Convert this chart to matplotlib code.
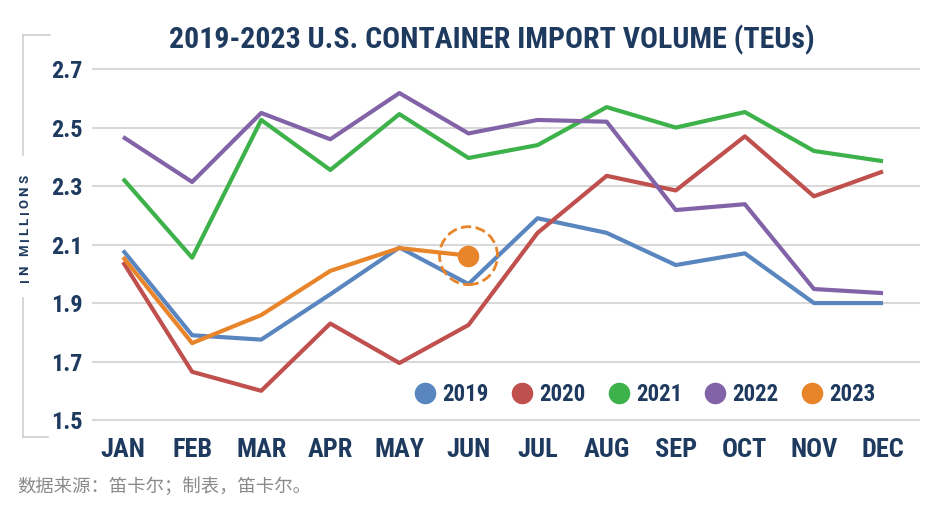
import matplotlib
matplotlib.use("Agg")
import matplotlib.pyplot as plt
from matplotlib.lines import Line2D

months = ["JAN", "FEB", "MAR", "APR", "MAY", "JUN", "JUL", "AUG", "SEP", "OCT", "NOV", "DEC"]
years = ["2019", "2020", "2021", "2022", "2023"]
v2019 = [2.08, 1.79, 1.775, 1.93, 2.09, 1.965, 2.19, 2.14, 2.03, 2.07, 1.90, 1.90]
v2020 = [2.04, 1.665, 1.60, 1.83, 1.695, 1.825, 2.14, 2.335, 2.285, 2.47, 2.265, 2.35]
v2021 = [2.325, 2.055, 2.526, 2.355, 2.546, 2.396, 2.44, 2.57, 2.50, 2.553, 2.42, 2.385]
v2022 = [2.468, 2.314, 2.55, 2.46, 2.618, 2.48, 2.526, 2.52, 2.218, 2.238, 1.948, 1.934]
v2023 = [2.057, 1.763, 1.859, 2.01, 2.088, 2.062]
yticks = [1.5, 1.7, 1.9, 2.1, 2.3, 2.5, 2.7]

colors = ["#5a86c0", "#c0504d", "#3db14a", "#8263a8", "#e8842a"]
navy = "#1e3a5f"
cond = ["Roboto Condensed", "DejaVu Sans"]

W, H = 935, 509
fig = plt.figure(figsize=(W / 100, H / 100), dpi=100)
ax = fig.add_axes([92 / W, 1 - 430 / H, 828 / W, 370 / H])

series = [v2019, v2020, v2021, v2022, v2023]
for vals, c in zip(series, colors):
    ax.plot(range(len(vals)), vals, color=c, lw=3, solid_capstyle="butt", zorder=3)

# last 2023 point: dot + dashed ring
last = len(v2023) - 1
ax.plot(last, v2023[-1], "o", color=colors[4], ms=14.5, zorder=4)
ax.scatter([last], [v2023[-1]], s=1740, facecolors="none", edgecolors=colors[4],
           linewidths=2, linestyles="--", zorder=4)

ax.set_xlim(-0.449, 11.535)
ax.set_ylim(1.466, 2.731)
ax.set_yticks(yticks)
ax.set_yticklabels([f"{t:.1f}" for t in yticks])
ax.set_xticks(range(12))
ax.set_xticklabels(months)
ax.grid(axis="y", color="#d9d9d9", lw=1.5)
ax.set_axisbelow(True)
for s in ax.spines.values():
    s.set_visible(False)
ax.tick_params(length=0, colors=navy)
ax.tick_params(axis="y", pad=7)
ax.tick_params(axis="x", pad=6)
for lab in ax.get_yticklabels():
    lab.set_family(cond); lab.set_weight("bold"); lab.set_fontsize(17.5)
for lab in ax.get_xticklabels():
    lab.set_family(cond); lab.set_weight("bold"); lab.set_fontsize(19)

handles = [Line2D([], [], marker="o", ls="none", color=c, ms=14.5) for c in colors]
leg = ax.legend(handles, years, ncol=5, frameon=False, loc="center right",
                bbox_to_anchor=(0.957, 0.095), handletextpad=0.3, columnspacing=1.0,
                handlelength=0.9, borderaxespad=0,
                prop=dict(family=cond, weight="bold", size=16.5))
for t in leg.get_texts():
    t.set_color(navy)

fig.text(492 / W, 1 - 40 / H, "2019-2023 U.S. CONTAINER IMPORT VOLUME (TEUs)",
         family=cond, weight="bold", fontsize=21.5, color=navy, ha="center", va="center")
fig.text(17 / W, 1 - 487 / H, "数据来源：笛卡尔；制表，笛卡尔。",
         family=["Noto Sans CJK SC", "DejaVu Sans"], fontsize=13.2, color="#8a8a8a",
         ha="left", va="center")

# letter-spaced rotated "IN MILLIONS", running from y=282 up to y=175
fig.canvas.draw()
r = fig.canvas.get_renderer()
label = "IN MILLIONS"
kw = dict(family=["Roboto", "DejaVu Sans"], weight="bold", fontsize=9.5, color=navy,
          rotation=90, ha="center", va="bottom")
chars = [fig.text(25 / W, 0, ch, **kw) for ch in label]
sizes = [t.get_window_extent(r).height if ch != " " else 4 for t, ch in zip(chars, label)]
gap = (107 - sum(sizes)) / (len(label) - 1)
ypos = H - 282
for t, h in zip(chars, sizes):
    t.set_y(ypos / H)
    ypos += h + gap

# left bracket
bc = "#cfcfcf"
for xs, ys in [([23, 23], [35, 155]), ([23, 50], [35, 35]),
               ([23, 23], [298, 437]), ([23, 48], [437, 437])]:
    fig.add_artist(Line2D([x / W for x in xs], [1 - y / H for y in ys],
                          color=bc, lw=1.2, transform=fig.transFigure))

fig.savefig("out.png", dpi=100)
